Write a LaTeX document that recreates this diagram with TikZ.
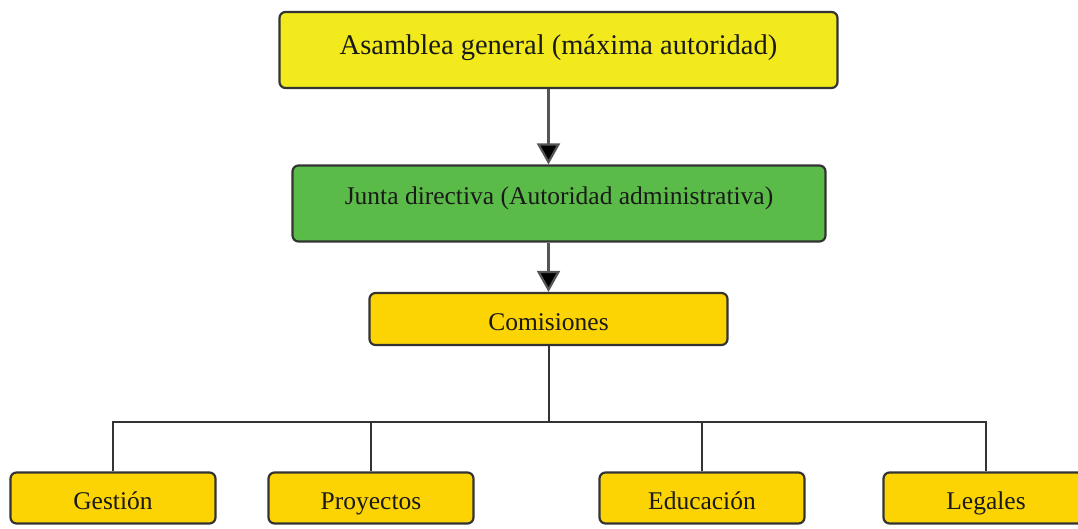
\documentclass[tikz,border=0pt]{standalone}
\usepackage{fontspec}
\setmainfont{Liberation Serif}
\usetikzlibrary{arrows.meta}
\definecolor{topyel}{HTML}{F2EA1C}
\definecolor{midgreen}{HTML}{5BBB48}
\definecolor{gold}{HTML}{FCD404}
\definecolor{edge}{HTML}{333333}
\definecolor{linegray}{HTML}{555555}
\newcommand{\lowered}[1]{\raisebox{-9pt}{#1}}
\begin{document}
\begin{tikzpicture}[x=1pt,y=-1pt,
  box/.style={draw=edge, line width=2.2pt, rounded corners=6pt, inner sep=0pt, text=black!90,
    text height=0.68em, text depth=0.22em},
  arr/.style={draw=linegray, line width=2.2pt, -{Triangle[length=21pt,width=23pt,fill=black]}},
  conn/.style={draw=edge, line width=2pt},
  big/.style={font=\fontsize{28.5}{32}\selectfont},
  mid/.style={font=\fontsize{25.5}{30}\selectfont}]
\useasboundingbox (0,0) rectangle (1078,529);
\node[box, big, fill=topyel, minimum width=558pt, minimum height=76pt] (a) at (558.5,50)
  {\raisebox{-2pt}{Asamblea general (máxima autoridad)}};
\node[box, mid, fill=midgreen, minimum width=533pt, minimum height=76pt] (j) at (559,203.5)
  {\raisebox{1pt}{Junta directiva (Autoridad administrativa)}};
\node[box, mid, fill=gold, minimum width=358pt, minimum height=52pt] (c) at (548.5,319) {\lowered{Comisiones}};
\node[box, mid, fill=gold, minimum width=205pt, minimum height=51pt] (g) at (113,498) {\lowered{Gestión}};
\node[box, mid, fill=gold, minimum width=205pt, minimum height=51pt] (p) at (371,498) {\lowered{Proyectos}};
\node[box, mid, fill=gold, minimum width=205pt, minimum height=51pt] (e) at (702,498) {\lowered{Educación}};
\node[box, mid, fill=gold, minimum width=205pt, minimum height=51pt] (l) at (986,498) {\lowered{Legales}};
\draw[arr] (c.north |- a.south) -- (c.north |- j.north);
\draw[arr] (j.south -| c.north) -- (c.north);
\coordinate (bus) at (548.5,422);
\draw[conn] (c.south) -- (bus);
\draw[conn] (g.north) -- (g.north |- bus) -- (l.north |- bus) -- (l.north);
\draw[conn] (p.north) -- (p.north |- bus);
\draw[conn] (e.north) -- (e.north |- bus);
\end{tikzpicture}
\end{document}
